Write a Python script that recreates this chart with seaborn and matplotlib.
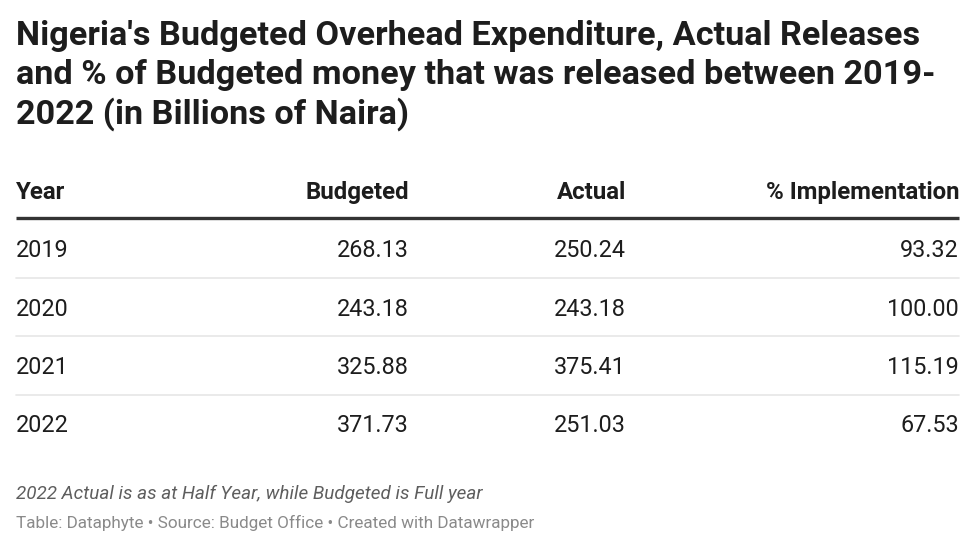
import seaborn as sns
import matplotlib.pyplot as plt
import pandas as pd

sns.set_theme(style="white")
plt.rcParams['font.family'] = ['Roboto', 'DejaVu Sans']

years = ["2019", "2020", "2021", "2022"]
budgeted = [268.13, 243.18, 325.88, 371.73]
actual = [250.24, 243.18, 375.41, 251.03]
implementation = [93.32, 100.00, 115.19, 67.53]
headers = ["Year", "Budgeted", "Actual", "% Implementation"]

title = ("Nigeria's Budgeted Overhead Expenditure, Actual Releases\n"
         "and % of Budgeted money that was released between 2019-\n"
         "2022 (in Billions of Naira)")
note = "2022 Actual is as at Half Year, while Budgeted is Full year"
source = "Table: Dataphyte \u2022 Source: Budget Office \u2022 Created with Datawrapper"

df = pd.DataFrame({"Year": years, "Budgeted": budgeted,
                   "Actual": actual, "% Implementation": implementation})

fig = plt.figure(figsize=(9.75, 5.5), dpi=100)
ax = fig.add_axes([0, 0, 1, 1])
# x in pixel-ish units, y in row index units (header row = -1)
ax.set_xlim(0, 975)
ax.set_ylim(5.154, -4.264)
ax.axis("off")

col_x = [16, 409, 626, 959]
col_ha = ["left", "right", "right", "right"]
txt = "#1d1d1d"

for x, ha, h in zip(col_x, col_ha, headers):
    ax.text(x, -0.97, h, ha=ha, va="center", fontsize=17.3, fontweight="bold", color=txt)

ax.plot([16, 959], [-0.53, -0.53], color="#333333", lw=2.4, solid_capstyle="butt")

for i, row in df.iterrows():
    vals = [row["Year"], f"{row['Budgeted']:.2f}", f"{row['Actual']:.2f}",
            f"{row['% Implementation']:.2f}"]
    for x, ha, v in zip(col_x, col_ha, vals):
        ax.text(x, i + 0.03, v, ha=ha, va="center", fontsize=16.8, color=txt)
    if i < len(df) - 1:
        ax.plot([16, 959], [i + 0.497, i + 0.497], color="#e6e6e6", lw=1.2)

fig.text(16 / 975, 1 - 20 / 550, title, ha="left", va="top", fontsize=24.7,
         fontweight="bold", color="#1d1d1d", linespacing=1.265)
fig.text(16 / 975, 1 - 494 / 550, note, ha="left", va="center", fontsize=13.6,
         style="italic", color="#5e5e5e")
fig.text(16 / 975, 1 - 523 / 550, source, ha="left", va="center", fontsize=12.3,
         color="#8a8a8a")

fig.savefig("out.png", dpi=100)
plt.close(fig)
